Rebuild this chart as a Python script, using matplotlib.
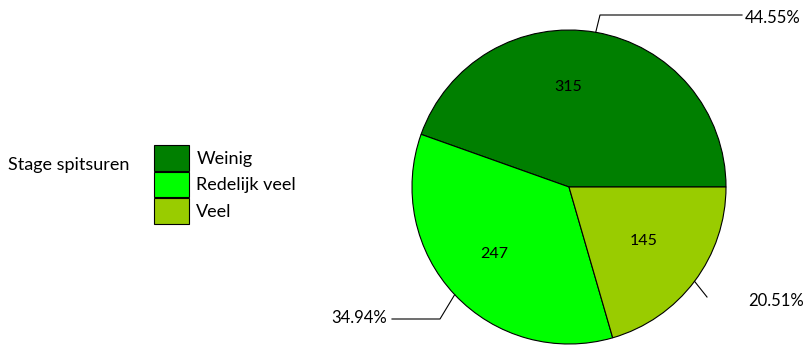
import matplotlib

matplotlib.use("Agg")
import matplotlib.pyplot as plt
import numpy as np

plt.rcParams.update({"font.family": ["Lato", "DejaVu Sans"], "font.size": 12})

categories = ["Weinig", "Redelijk veel", "Veel"]
counts = [315, 247, 145]
pct_labels = ["44.55%", "34.94%", "20.51%"]
colors = ["#007F00", "#00FF00", "#99CC00"]
legend_title = "Stage spitsuren"

W, H = 807, 345
CX, CY, R = 569, 345 - 187, 157

fig = plt.figure(figsize=(W / 100, H / 100), dpi=100)
ax = fig.add_axes([0, 0, 1, 1])

wedges, _ = ax.pie(counts, colors=colors, startangle=0, counterclock=True,
                   center=(CX, CY), radius=R, frame=True,
                   wedgeprops=dict(edgecolor="black", linewidth=0.8))
ax.set_xlim(0, W); ax.set_ylim(0, H); ax.axis("off")

# value labels inside the slices (offsets as fraction of the radius)
val_offsets = [(-0.006, 0.637), (-0.478, -0.427), (0.478, -0.344)]
for v, (dx, dy) in zip(counts, val_offsets):
    ax.text(CX + dx * R, CY + dy * R, str(v), ha="center", va="center", fontsize=11.5)

# percentage labels with leader lines
frac = np.array(counts) / sum(counts)
mids = np.cumsum(frac) * 360 - frac * 180
elbows = [(600, 15), (440, 319), (707, 297)]
ends = [(742, 15), (392, 319), None]
texts = [(745, 18, "left"), (387, 318, "right"), (748, 301, "left")]
for m, el, en, (tx, ty, ha), lab in zip(mids, elbows, ends, texts, pct_labels):
    a = np.deg2rad(m)
    px, py = CX + R * np.cos(a), CY + R * np.sin(a)
    xs, ys = [px, el[0]], [py, H - el[1]]
    if en is not None:
        xs.append(en[0]); ys.append(H - en[1])
    ax.plot(xs, ys, color="black", lw=0.8)
    ax.text(tx, H - ty, lab, ha=ha, va="center", fontsize=12)

# legend
fig.text(8 / W, 1 - 165 / H, legend_title, ha="left", va="center", fontsize=13)
fig.legend(wedges, categories, loc="upper left", bbox_to_anchor=(154 / W, 1 - 145 / H),
           frameon=False, borderpad=0, borderaxespad=0, labelspacing=0.06,
           handlelength=1.95, handleheight=1.8, handletextpad=0.4, fontsize=13)

fig.savefig("out.png", dpi=100)
